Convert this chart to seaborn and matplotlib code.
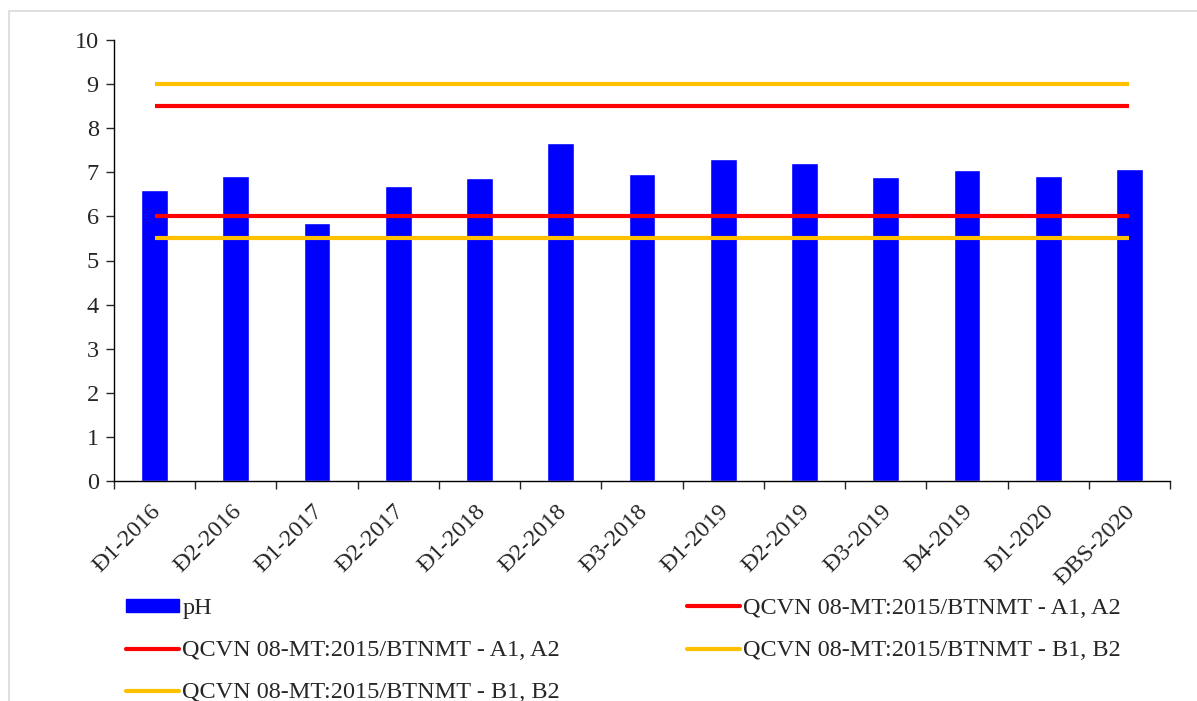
import numpy as np
import matplotlib
matplotlib.use("Agg")
import matplotlib.pyplot as plt
import matplotlib.transforms as mtransforms
from matplotlib.patches import Patch, Rectangle
from matplotlib.lines import Line2D
import seaborn as sns
import pandas as pd

# Data
dot_labels = ["Đ1-2016", "Đ2-2016", "Đ1-2017", "Đ2-2017", "Đ1-2018", "Đ2-2018",
              "Đ3-2018", "Đ1-2019", "Đ2-2019", "Đ3-2019", "Đ4-2019", "Đ1-2020",
              "ĐBS-2020"]
ph_values = [6.59, 6.92, 5.86, 6.68, 6.88, 7.66, 6.97, 7.31, 7.20, 6.90, 7.05, 6.91, 7.08]

# QCVN 08-MT:2015/BTNMT limits (lower / upper)
a_limits = [6.0, 8.5]   # A1, A2
b_limits = [5.5, 9.0]   # B1, B2
a_label = "QCVN 08-MT:2015/BTNMT - A1, A2"
b_label = "QCVN 08-MT:2015/BTNMT - B1, B2"

sns.set_style("white")
plt.rcParams["font.family"] = ["Liberation Serif", "DejaVu Serif"]
FS = 17.5
plt.rcParams["font.size"] = FS

BLUE = "#0000FF"
RED = "#FF0000"
ORANGE = "#FFC000"

df = pd.DataFrame({"dot": dot_labels, "pH": ph_values})

fig = plt.figure(figsize=(11.97, 7.01), dpi=100)
ax = fig.add_axes([114 / 1197, 1 - 481 / 701, (1170 - 114) / 1197, (481 - 40) / 701])

sns.barplot(data=df, x="dot", y="pH", color=BLUE, saturation=1, width=0.33, ax=ax)

n = len(dot_labels)
for v in a_limits:
    ax.hlines(v, 0, n - 1, color=RED, lw=3, zorder=3)
for v in b_limits:
    ax.hlines(v, 0, n - 1, color=ORANGE, lw=3, zorder=3)

ax.set_xlim(-0.5, n - 0.5)
ax.set_ylim(0, 10)
ax.set_yticks(range(0, 11))
ax.set_xlabel("")
ax.set_ylabel("")

# ticks at category boundaries (Excel style)
ax.set_xticks(np.arange(n))
ax.set_xticklabels(dot_labels, rotation=45, ha="right", rotation_mode="anchor")
ax.set_xticks(np.arange(-0.5, n, 1), minor=True)
ax.tick_params(axis="x", which="major", length=0, pad=10, labelsize=FS)
ax.tick_params(axis="x", which="minor", length=6, width=1, direction="out", bottom=True)
ax.tick_params(axis="y", length=6, width=1, direction="out", left=True, labelsize=FS, pad=5)

# nudge rotated labels a little left and down
shift = mtransforms.ScaledTranslation(-5 / 100, -6 / 100, fig.dpi_scale_trans)
for lab in ax.get_xticklabels():
    lab.set_transform(lab.get_transform() + shift)

for side in ["top", "right"]:
    ax.spines[side].set_visible(False)
for side in ["left", "bottom"]:
    ax.spines[side].set_color("black")
    ax.spines[side].set_linewidth(1)

handles = [
    Patch(facecolor=BLUE, edgecolor=BLUE),
    Line2D([], [], color=RED, lw=3),
    Line2D([], [], color=ORANGE, lw=3),
    Line2D([], [], color=RED, lw=3),
    Line2D([], [], color=ORANGE, lw=3),
]
labels = ["pH", a_label, b_label, a_label, b_label]
fig.legend(handles, labels, loc="upper left", bbox_to_anchor=(126 / 1197, 1 - 598 / 701),
           ncol=2, frameon=False, borderpad=0, borderaxespad=0, handlelength=2.2,
           handleheight=0.45, handletextpad=0.12, columnspacing=5.2, labelspacing=0.87,
           fontsize=FS)

# light outer frame
fig.patches.append(Rectangle((9 / 1197, -0.05), 1.1, 1 - 11 / 701 + 0.05,
                             transform=fig.transFigure, fill=False,
                             edgecolor="#d9d9d9", lw=1.2))

fig.savefig("out.png", dpi=100)
